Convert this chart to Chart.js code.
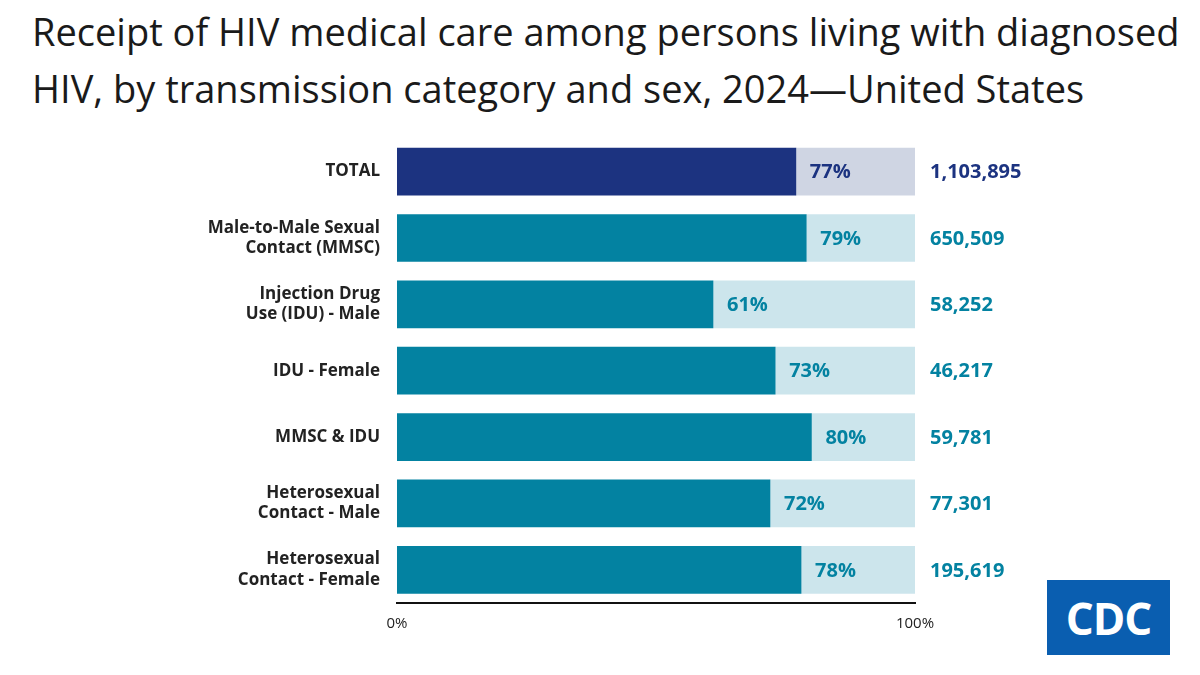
<!DOCTYPE html>
<html>
<head>
<meta charset="utf-8">
<script src="https://cdn.jsdelivr.net/npm/chart.js@4"></script>
<style>
  body { margin: 0; background: #fff; width: 1200px; height: 675px; overflow: hidden; position: relative; font-family: "Open Sans", sans-serif; }
  h1 { position: absolute; left: 32px; top: 3px; margin: 0; font-weight: 400; font-size: 38px; line-height: 57px; color: #1a1a1a; white-space: nowrap; }
  #wrap { position: absolute; left: 0; top: 101px; width: 1200px; height: 574px; }
  #cdc { position: absolute; left: 1047px; top: 580px; width: 123px; height: 75px; background: #0a5eb0; color: #fff; font: 700 44px "Open Sans", sans-serif; display: flex; align-items: center; justify-content: center; letter-spacing: -1px; }
</style>
</head>
<body>
<h1>Receipt of HIV medical care among persons living with diagnosed<br>HIV, by transmission category and sex, 2024—United States</h1>
<div id="wrap"><canvas id="c"></canvas></div>
<div id="cdc">CDC</div>
<script>
// data
const categories = [
	["TOTAL"],
	["Male-to-Male Sexual", "Contact (MMSC)"],
	["Injection Drug", "Use (IDU) - Male"],
	["IDU - Female"],
	["MMSC & IDU"],
	["Heterosexual", "Contact - Male"],
	["Heterosexual", "Contact - Female"]
];
const inCare = [77, 79, 61, 73, 80, 72, 78];
const persons = ["1,103,895", "650,509", "58,252", "46,217", "59,781", "77,301", "195,619"];

const dark = inCare.map((v, i) => i === 0 ? "#1c3380" : "#0382a1");
const light = inCare.map((v, i) => i === 0 ? "#cfd5e3" : "#cce5ec");
const textCol = inCare.map((v, i) => i === 0 ? "#1c3380" : "#0382a1");

// percent inside the light part, and person counts to the right
const labelPlugin = {
	id: "labels",
	afterDatasetsDraw: function (chart) {
		const ctx = chart.ctx;
		const meta = chart.getDatasetMeta(0);
		const x = chart.scales.x;
		ctx.save();
		ctx.textBaseline = "middle";
		ctx.font = "700 20px 'Open Sans', sans-serif";
		meta.data.forEach((bar, i) => {
			ctx.fillStyle = textCol[i];
			ctx.textAlign = "left";
			ctx.fillText(inCare[i] + "%", bar.x + 14, bar.y + 1);
			ctx.fillText(persons[i], x.right + 15, bar.y + 1);
		});
		ctx.restore();
	}
};

new Chart(document.getElementById("c"), {
	type: "bar",
	data: {
		labels: categories,
		datasets: [
			{ data: inCare, backgroundColor: dark, barThickness: 47 },
			{ data: inCare.map(v => 100 - v), backgroundColor: light, barThickness: 47 }
		]
	},
	options: {
		indexAxis: "y",
		responsive: true,
		maintainAspectRatio: false,
		animation: false,
		layout: { padding: { top: 8, right: 285, bottom: 42, left: 0 } },
		plugins: { legend: { display: false }, tooltip: { enabled: false } },
		scales: {
			x: {
				stacked: true, min: 0, max: 100,
				afterFit: s => { s.height = 30; },
				afterBuildTicks: s => { s.ticks = [{ value: 0 }, { value: 100 }]; },
				grid: { display: false, drawTicks: true },
				border: { display: true, color: "#111", width: 2 },
				ticks: { color: "#222", font: { family: "Open Sans", size: 15 }, padding: 4, callback: v => v + "%" }
			},
			y: {
				stacked: true,
				afterFit: s => { s.width = 397; },
				grid: { display: false, drawTicks: false },
				border: { display: false },
				ticks: { color: "#222", padding: 17, font: { family: "Open Sans", size: 17, weight: 700, lineHeight: 1.2 } }
			}
		}
	},
	plugins: [labelPlugin]
});
</script>
</body>
</html>
